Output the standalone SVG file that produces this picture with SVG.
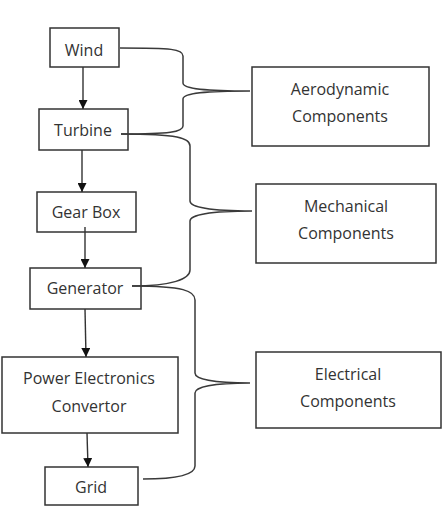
<svg xmlns="http://www.w3.org/2000/svg" width="443" height="511" viewBox="0 0 443 511">
<defs>
<style>
.box{fill:#fff;stroke:#333;stroke-width:1.5}
.t{font-family:"Open Sans","Liberation Sans",sans-serif;font-size:16px;fill:#333;text-anchor:middle;dominant-baseline:central}
.c{fill:none;stroke:#333;stroke-width:1.4}
.b{fill:none;stroke:#3a3a3a;stroke-width:1.5}
</style>
<marker id="arr" markerWidth="9" markerHeight="9" refX="9" refY="4.5" orient="auto" markerUnits="userSpaceOnUse" viewBox="0 0 9 9">
<path d="M0,0 L9,4.5 L0,9 Z" fill="#111"/>
</marker>
</defs>
<g id="wind"><rect class="box" x="50" y="28" width="69" height="39"/><text class="t" x="84" y="50">Wind</text></g>
<g id="turbine"><rect class="box" x="39" y="109" width="89" height="41"/><text class="t" x="83" y="130">Turbine</text></g>
<g id="gearbox"><rect class="box" x="37" y="192" width="99" height="40"/><text class="t" x="86" y="212">Gear Box</text></g>
<g id="generator"><rect class="box" x="30" y="268" width="111" height="41"/><text class="t" x="85" y="288">Generator</text></g>
<g id="pec"><rect class="box" x="2" y="357" width="176" height="76"/><text class="t" x="89" y="378">Power Electronics</text><text class="t" x="89" y="406">Convertor</text></g>
<g id="grid"><rect class="box" x="45" y="467" width="93" height="38"/><text class="t" x="91" y="487">Grid</text></g>
<g id="aero"><rect class="box" x="252" y="67" width="177" height="79"/><text class="t" x="340" y="89">Aerodynamic</text><text class="t" x="340" y="116">Components</text></g>
<g id="mech"><rect class="box" x="256" y="184" width="180" height="79"/><text class="t" x="346" y="206">Mechanical</text><text class="t" x="346" y="233">Components</text></g>
<g id="elec"><rect class="box" x="256" y="352" width="185" height="76"/><text class="t" x="348" y="374">Electrical</text><text class="t" x="348" y="401">Components</text></g>
<g id="connectors">
<path class="c" d="M83,67 L83,109" marker-end="url(#arr)"/>
<path class="c" d="M82,150 L82,192" marker-end="url(#arr)"/>
<path class="c" d="M85,227 L85,268" marker-end="url(#arr)"/>
<path class="c" d="M85,309 L86,357" marker-end="url(#arr)"/>
<path class="c" d="M87,433 L88,467" marker-end="url(#arr)"/>
<path class="b" d="M120,48 C172,48 183,49 183,56 L183,83 C183,89 205,91 250,91 C205,91 183,93 183,99 L183,126 C183,132 170,134 121,134"/>
<path class="b" d="M121,134 C178,134 190,138 190,146 L190,201 C190,207 210,211 252,211 C210,211 190,215 190,221 L190,270 C190,279 172,286 132,286"/>
<path class="b" d="M132,286 C184,286 195,291 195,300 L195,373 C195,379 213,383 250,383 C213,383 195,387 195,393 L195,466 C195,474 180,479 143,479"/>
</g>
</svg>
